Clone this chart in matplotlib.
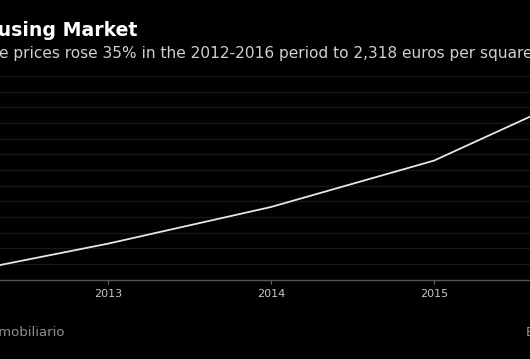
import matplotlib
matplotlib.use("Agg")
import matplotlib.pyplot as plt

# annual average price, euros per square metre
years = [2012, 2013, 2014, 2015, 2016]
prices = [1712, 1815, 1932, 2080, 2318]
tick_years = [2013, 2014, 2015]
grid_levels = list(range(1750, 2351, 50))

W, H = 530, 359
fig = plt.figure(figsize=(W / 100, H / 100), dpi=100, facecolor="black")

# the chart is a crop of a wider graphic, so the axes run past the edges
left_px, right_px = -55, 597
bottom_px, top_px = 279.7, 76
ax = fig.add_axes([left_px / W, (H - bottom_px) / H,
                   (right_px - left_px) / W, (bottom_px - top_px) / H])
ax.set_facecolor("black")

for lvl in grid_levels:
    ax.axhline(lvl, color="#181818", lw=0.9, zorder=1)

ax.plot(years, prices, color="#e6e6e6", lw=1.3, zorder=3)

ax.set_xlim(2012, 2016)
ax.set_ylim(1700, 2350)
ax.set_xticks(tick_years)
ax.set_xticklabels([str(y) for y in tick_years])
ax.set_yticks([])
for side in ["top", "right", "left"]:
    ax.spines[side].set_visible(False)
ax.spines["bottom"].set_color("#555555")
ax.spines["bottom"].set_linewidth(1.0)
ax.tick_params(axis="x", colors="#666666", length=3, width=0.8,
               labelcolor="#c8c8c8", labelsize=8, pad=3.5)


def px(x, y):
    return x / W, 1 - y / H


fig.text(*px(137, 36), "Housing Market", ha="right", va="baseline",
         color="white", fontsize=13.6, fontweight="bold")
fig.text(*px(-1, 58), "e prices rose 35% in the 2012-2016 period to 2,318 euros per square meter",
         ha="left", va="baseline", color="#d0d0d0", fontsize=11.05)
fig.text(*px(65, 336), "Inmobiliario", ha="right", va="baseline",
         color="#909090", fontsize=9.5)
fig.text(*px(526, 336), "Bloomberg", ha="left", va="baseline",
         color="#909090", fontsize=9.5)

fig.savefig("out.png", dpi=100, facecolor="black")
